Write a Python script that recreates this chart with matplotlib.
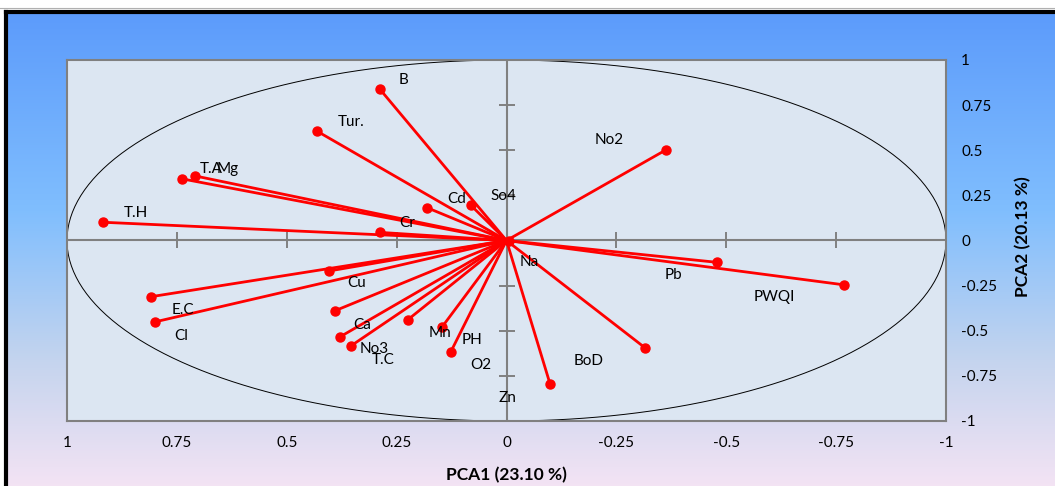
import numpy as np
import matplotlib.pyplot as plt
from matplotlib.colors import LinearSegmentedColormap
from matplotlib.lines import Line2D

# loadings
variables = ["B", "Tur.", "T.A", "Mg", "T.H", "Cr", "Cd", "So4", "No2",
             "Na", "Pb", "PWQI", "BoD", "Zn",
             "Cu", "E.C", "Cl", "Ca", "No3", "T.C", "Mn", "PH", "O2"]
pca1 = [0.288, 0.432, 0.739, 0.709, 0.917, 0.288, 0.180, 0.081, -0.362,
        -0.006, -0.479, -0.769, -0.316, -0.099,
        0.404, 0.808, 0.800, 0.391, 0.379, 0.354, 0.225, 0.146, 0.127]
pca2 = [0.838, 0.607, 0.342, 0.358, 0.101, 0.045, 0.181, 0.195, 0.501,
        -0.004, -0.121, -0.246, -0.596, -0.794,
        -0.169, -0.311, -0.451, -0.390, -0.534, -0.584, -0.440, -0.477, -0.618]

# label offsets (pixels, right / down) from each point
label_dx = [24, 34, 30, 33, 32, 27, 29, 33, -56,
            20, -44, -70, -57, -43,
            28, 32, 26, 28, 34, 32, 32, 30, 30]
label_dy = [-9, -9, -10, -7, -9, -9, -9, -9, -10,
            21, 13, 12, 13, 14,
            12, 13, 14, 14, 12, 14, 13, 13, 13]

ticks = [1, 0.75, 0.5, 0.25, 0, -0.25, -0.5, -0.75, -1]
tick_labels = ["1", "0.75", "0.5", "0.25", "0", "-0.25", "-0.5", "-0.75", "-1"]

W, H = 1055, 486
fig = plt.figure(figsize=(W / 100, H / 100), dpi=100)
fig.patch.set_facecolor("white")

# gradient chart area with black frame
bg = fig.add_axes([6 / W, -0.05, 1.1, (H - 12) / H + 0.05])
cmap = LinearSegmentedColormap.from_list(
    "bg", [(0, "#5c9bfb"), (0.4, "#80befe"), (0.7, "#c4d4ee"), (1, "#fce6f5")])
grad = np.linspace(0, 1, 256).reshape(-1, 1)
bg.imshow(grad, aspect="auto", cmap=cmap, extent=[0, 1, 0, 1], origin="upper")
bg.set_xticks([])
bg.set_yticks([])
for s in bg.spines.values():
    s.set_color("black")
    s.set_linewidth(3)
fig.add_artist(Line2D([0, 1], [1 - 8 / H, 1 - 8 / H], color="#b0b0b0", lw=0.8))

ax = fig.add_axes([67 / W, 65 / H, 879 / W, 361 / H])
ax.set_facecolor("#dce6f2")
ax.set_xlim(1, -1)
ax.set_ylim(-1, 1)
for s in ax.spines.values():
    s.set_color("#808080")
    s.set_linewidth(1.5)

# correlation circle
t = np.linspace(0, 2 * np.pi, 400)
ax.plot(np.cos(t), np.sin(t), color="black", lw=0.7, zorder=2)

# axes through origin with cross tick marks
gray = "#808080"
ax.axhline(0, color=gray, lw=1.5, zorder=1)
ax.axvline(0, color=gray, lw=1.5, zorder=1)
inner = [v for v in ticks if v not in (0, 1, -1)]
ax.plot(inner, [0] * len(inner), ls="none", marker="|", ms=11, mew=1.4, color=gray, zorder=1)
ax.plot([0] * len(inner), inner, ls="none", marker="_", ms=11, mew=1.4, color=gray, zorder=1)

for name, x, y, dx, dy in zip(variables, pca1, pca2, label_dx, label_dy):
    ax.plot([0, x], [0, y], color="red", lw=2, zorder=3, solid_capstyle="round")
    ax.plot(x, y, "o", color="red", ms=6.5, zorder=4)
    ax.annotate(name, (x, y), xytext=(dx * 0.72, -dy * 0.72), textcoords="offset points",
                ha="center", va="center", fontsize=11, family="Lato", zorder=5)

ax.set_xticks(ticks)
ax.set_xticklabels(tick_labels, family=["Liberation Sans Narrow", "Lato"], fontsize=11)
ax.yaxis.tick_right()
ax.set_yticks(ticks)
ax.set_yticklabels(tick_labels, family="Lato", fontsize=11)
ax.tick_params(axis="x", length=0, pad=11)
ax.tick_params(axis="y", length=0, pad=11)

fig.text(506 / W, 1 - 475 / H, "PCA1 (23.10 %)", ha="center", va="center",
         fontsize=12.5, fontweight="bold", family="Lato")
fig.text(1023 / W, 1 - 237 / H, "PCA2 (20.13 %)", ha="center", va="center",
         rotation=90, fontsize=12.5, fontweight="bold", family="Lato")

fig.savefig("out.png", dpi=100)
